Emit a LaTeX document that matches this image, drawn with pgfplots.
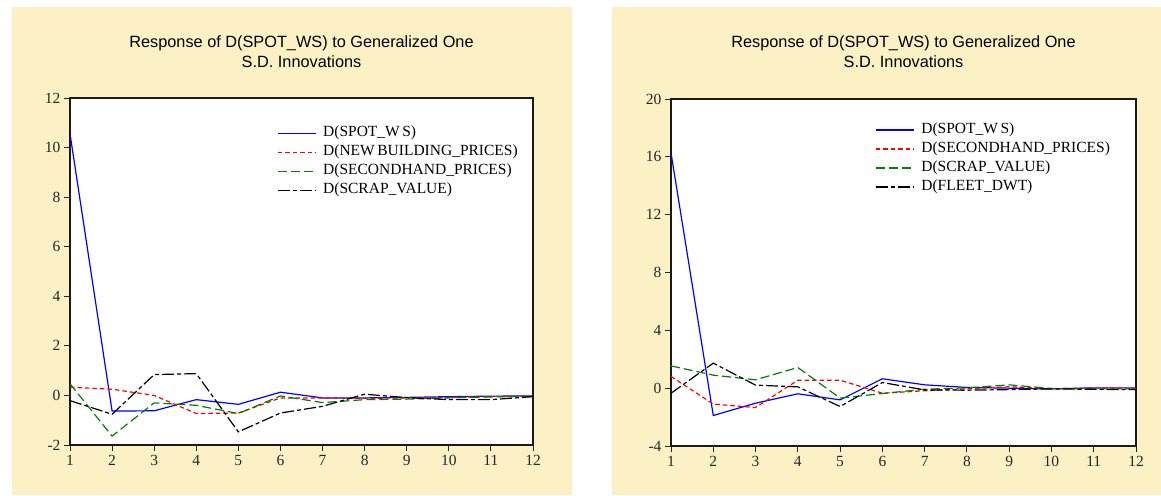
\documentclass[border=0pt]{standalone}
\usepackage{fontspec}
\setmainfont{Liberation Serif}
\newfontfamily\arialfont{Liberation Sans}
\usepackage{pgfplots}
\usepackage{pgfplotstable}
\pgfplotsset{compat=1.18}
\definecolor{bgyellow}{RGB}{252,241,197}
\definecolor{evgreen}{RGB}{0,128,0}

\pgfplotstableread{
x blue red green black
1 10.56 0.33 0.47 -0.21
2 -0.63 0.25 -1.64 -0.76
3 -0.62 0.00 -0.30 0.84
4 -0.17 -0.73 -0.40 0.88
5 -0.36 -0.71 -0.73 -1.47
6 0.13 -0.10 -0.02 -0.71
7 -0.10 -0.10 -0.29 -0.44
8 -0.10 -0.12 -0.17 0.05
9 -0.08 -0.10 -0.15 -0.09
10 -0.05 -0.08 -0.10 -0.17
11 -0.03 -0.05 -0.06 -0.17
12 -0.02 -0.03 -0.04 -0.05
}\lefttable

\pgfplotstableread{
x blue red green black
1 16.27 0.81 1.54 -0.35
2 -1.89 -1.10 0.90 1.73
3 -1.04 -1.34 0.58 0.21
4 -0.39 0.55 1.43 0.09
5 -0.81 0.55 -0.69 -1.27
6 0.65 -0.35 -0.37 0.39
7 0.23 -0.18 -0.07 -0.12
8 0.05 -0.05 0.02 -0.14
9 0.00 0.10 0.23 -0.10
10 -0.05 -0.05 -0.02 -0.05
11 0.02 0.02 -0.05 -0.08
12 0.02 0.00 -0.05 -0.10
}\righttable

\pgfplotsset{
  irf/.style={
    scale only axis,
    height=347pt,
    xmin=1, xmax=12, xtick={1,...,12},
    tick pos=left,
    tick align=outside,
    major tick length=6pt,
    axis line style={line width=1.2pt, black!90},
    tick style={line width=0.9pt, black!85},
    ticklabel style={font=\fontsize{15.5}{18}\selectfont, text=black!85},
    xticklabel style={yshift=-1pt},
    /pgf/number format/assume math mode=true,
    axis background/.style={fill=white},
    legend style={draw=none, fill=none, inner sep=0pt, outer sep=0pt,
      font=\fontsize{15.5}{18}\selectfont, row sep=0pt,
      nodes={inner sep=0pt, text height=12.5pt, text depth=6.5pt}},
    legend cell align=left,
    legend image code/.code={\draw[##1] (0pt,0pt) -- (38pt,0pt);},
    /tikz/every odd column/.append style={column sep=7pt},
  },
  sblue/.style={blue, solid, line width=1.2pt},
  sred/.style={red, line width=1.2pt, dash pattern=on 4.5pt off 3pt},
  sgreen/.style={evgreen, line width=1.2pt, dash pattern=on 9pt off 4pt},
  sblack/.style={black, line width=1.2pt, dash pattern=on 12pt off 3pt on 4pt off 3pt},
}

\begin{document}
\begin{tikzpicture}[x=1pt,y=1pt]
\useasboundingbox (0,0) rectangle (1161,495);
\fill[bgyellow] (12,0) rectangle (572,488);
\fill[bgyellow] (612,0) rectangle (1161,488);

\begin{axis}[irf, at={(70pt,50pt)}, anchor=south west, width=463pt,
  ymin=-2, ymax=12, ytick={-2,0,...,12},
  legend style={at={(0.447,0.9255)}, anchor=north west}]
\addplot[sblue] table[x=x,y=blue]{\lefttable};
\addlegendentry{D(SPOT\_W\,S)}
\addplot[sred] table[x=x,y=red]{\lefttable};
\addlegendentry{D(NEW\,BUILDING\_PRICES)}
\addplot[sgreen] table[x=x,y=green]{\lefttable};
\addlegendentry{D(SECONDHAND\_PRICES)}
\addplot[sblack] table[x=x,y=black]{\lefttable};
\addlegendentry{D(SCRAP\_VALUE)}
\end{axis}

\begin{axis}[irf, at={(671pt,49pt)}, anchor=south west, width=465pt,
  ymin=-4, ymax=20, ytick={-4,0,...,20},
  legend style={at={(0.439,0.938)}, anchor=north west}]
\addplot[sblue] table[x=x,y=blue]{\righttable};
\addlegendentry{D(SPOT\_W\,S)}
\addplot[sred] table[x=x,y=red]{\righttable};
\addlegendentry{D(SECONDHAND\_PRICES)}
\addplot[sgreen] table[x=x,y=green]{\righttable};
\addlegendentry{D(SCRAP\_VALUE)}
\addplot[sblack] table[x=x,y=black]{\righttable};
\addlegendentry{D(FLEET\_DWT)}
\end{axis}

\node[anchor=base, font=\arialfont\fontsize{16.3}{20}\selectfont] at (301.5,447) {Response of D(SPOT\_WS) to Generalized One};
\node[anchor=base, font=\arialfont\fontsize{16.3}{20}\selectfont] at (301.5,427) {S.D. Innovations};
\node[anchor=base, font=\arialfont\fontsize{16.3}{20}\selectfont] at (903.5,447) {Response of D(SPOT\_WS) to Generalized One};
\node[anchor=base, font=\arialfont\fontsize{16.3}{20}\selectfont] at (903.5,427) {S.D. Innovations};
\end{tikzpicture}
\end{document}
